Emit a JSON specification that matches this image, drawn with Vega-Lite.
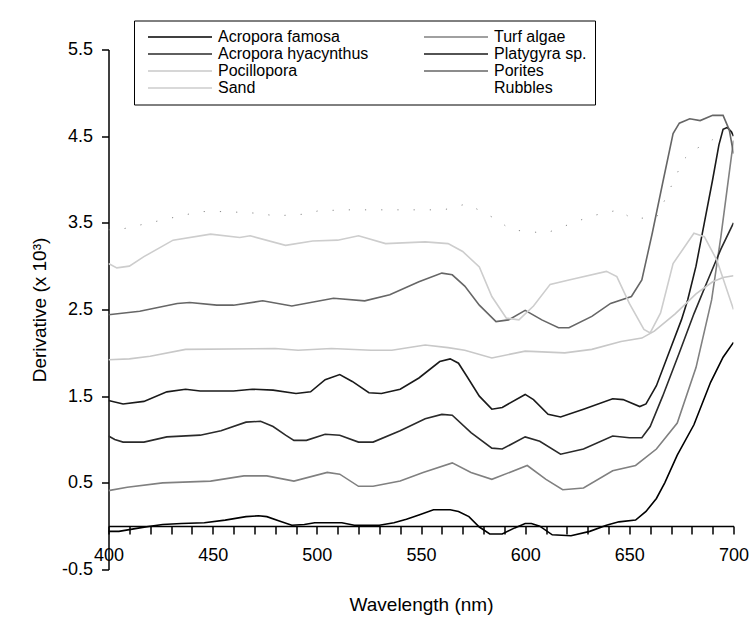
{
  "$schema": "https://vega.github.io/schema/vega-lite/v6.json",
  "width": 625,
  "height": 520,
  "autosize": {"type": "none"},
  "padding": {"left": 108.5, "top": 49.5, "right": 22.5, "bottom": 63.5},
  "background": "white",
  "config": {
    "font": "Liberation Sans",
    "view": {"stroke": null},
    "axis": {"grid": false, "ticks": true, "domainColor": "black", "tickColor": "black", "labelColor": "black", "titleColor": "black", "labelFontSize": 18, "titleFontSize": 19, "titleFontWeight": "normal", "tickSize": 7, "domainWidth": 1.5, "tickWidth": 1.5}
  },
  "datasets": {
    "spectra": [
      {"s": "Acropora famosa", "w": 400, "v": -0.06}, {"s": "Acropora famosa", "w": 405, "v": -0.06}, {"s": "Acropora famosa", "w": 410, "v": -0.04}, {"s": "Acropora famosa", "w": 415, "v": -0.02}, {"s": "Acropora famosa", "w": 420, "v": 0.0}, {"s": "Acropora famosa", "w": 426, "v": 0.02}, {"s": "Acropora famosa", "w": 435, "v": 0.03}, {"s": "Acropora famosa", "w": 446, "v": 0.04}, {"s": "Acropora famosa", "w": 456, "v": 0.07}, {"s": "Acropora famosa", "w": 466, "v": 0.11}, {"s": "Acropora famosa", "w": 472, "v": 0.12}, {"s": "Acropora famosa", "w": 476, "v": 0.11}, {"s": "Acropora famosa", "w": 482, "v": 0.06}, {"s": "Acropora famosa", "w": 488, "v": 0.01}, {"s": "Acropora famosa", "w": 494, "v": 0.02}, {"s": "Acropora famosa", "w": 499, "v": 0.04}, {"s": "Acropora famosa", "w": 512, "v": 0.04}, {"s": "Acropora famosa", "w": 518, "v": 0.01}, {"s": "Acropora famosa", "w": 530, "v": 0.01}, {"s": "Acropora famosa", "w": 537, "v": 0.04}, {"s": "Acropora famosa", "w": 543, "v": 0.08}, {"s": "Acropora famosa", "w": 549, "v": 0.13}, {"s": "Acropora famosa", "w": 556, "v": 0.19}, {"s": "Acropora famosa", "w": 564, "v": 0.19}, {"s": "Acropora famosa", "w": 568, "v": 0.17}, {"s": "Acropora famosa", "w": 573, "v": 0.11}, {"s": "Acropora famosa", "w": 578, "v": -0.01}, {"s": "Acropora famosa", "w": 583, "v": -0.09}, {"s": "Acropora famosa", "w": 589, "v": -0.09}, {"s": "Acropora famosa", "w": 595, "v": -0.02}, {"s": "Acropora famosa", "w": 600, "v": 0.03}, {"s": "Acropora famosa", "w": 603, "v": 0.03}, {"s": "Acropora famosa", "w": 607, "v": 0.0}, {"s": "Acropora famosa", "w": 613, "v": -0.1}, {"s": "Acropora famosa", "w": 622, "v": -0.11}, {"s": "Acropora famosa", "w": 631, "v": -0.06}, {"s": "Acropora famosa", "w": 639, "v": 0.01}, {"s": "Acropora famosa", "w": 645, "v": 0.05}, {"s": "Acropora famosa", "w": 653, "v": 0.07}, {"s": "Acropora famosa", "w": 658, "v": 0.17}, {"s": "Acropora famosa", "w": 663, "v": 0.32}, {"s": "Acropora famosa", "w": 667, "v": 0.5}, {"s": "Acropora famosa", "w": 673, "v": 0.82}, {"s": "Acropora famosa", "w": 681, "v": 1.17}, {"s": "Acropora famosa", "w": 689, "v": 1.66}, {"s": "Acropora famosa", "w": 695, "v": 1.95}, {"s": "Acropora famosa", "w": 700, "v": 2.12},

      {"s": "Turf algae", "w": 400, "v": 0.41}, {"s": "Turf algae", "w": 409, "v": 0.45}, {"s": "Turf algae", "w": 426, "v": 0.5}, {"s": "Turf algae", "w": 449, "v": 0.52}, {"s": "Turf algae", "w": 465, "v": 0.58}, {"s": "Turf algae", "w": 476, "v": 0.58}, {"s": "Turf algae", "w": 489, "v": 0.52}, {"s": "Turf algae", "w": 505, "v": 0.62}, {"s": "Turf algae", "w": 511, "v": 0.6}, {"s": "Turf algae", "w": 520, "v": 0.46}, {"s": "Turf algae", "w": 527, "v": 0.46}, {"s": "Turf algae", "w": 540, "v": 0.52}, {"s": "Turf algae", "w": 551, "v": 0.62}, {"s": "Turf algae", "w": 565, "v": 0.73}, {"s": "Turf algae", "w": 574, "v": 0.62}, {"s": "Turf algae", "w": 584, "v": 0.54}, {"s": "Turf algae", "w": 601, "v": 0.7}, {"s": "Turf algae", "w": 610, "v": 0.54}, {"s": "Turf algae", "w": 618, "v": 0.42}, {"s": "Turf algae", "w": 628, "v": 0.44}, {"s": "Turf algae", "w": 642, "v": 0.64}, {"s": "Turf algae", "w": 653, "v": 0.7}, {"s": "Turf algae", "w": 663, "v": 0.89}, {"s": "Turf algae", "w": 673, "v": 1.19}, {"s": "Turf algae", "w": 682, "v": 1.83}, {"s": "Turf algae", "w": 689.5, "v": 2.61}, {"s": "Turf algae", "w": 694, "v": 3.35}, {"s": "Turf algae", "w": 697, "v": 3.9}, {"s": "Turf algae", "w": 700, "v": 4.45},

      {"s": "Acropora hyacynthus", "w": 400, "v": 1.04}, {"s": "Acropora hyacynthus", "w": 403, "v": 1.0}, {"s": "Acropora hyacynthus", "w": 407, "v": 0.97}, {"s": "Acropora hyacynthus", "w": 417, "v": 0.97}, {"s": "Acropora hyacynthus", "w": 428, "v": 1.03}, {"s": "Acropora hyacynthus", "w": 444, "v": 1.05}, {"s": "Acropora hyacynthus", "w": 454, "v": 1.1}, {"s": "Acropora hyacynthus", "w": 466, "v": 1.2}, {"s": "Acropora hyacynthus", "w": 473, "v": 1.21}, {"s": "Acropora hyacynthus", "w": 479, "v": 1.15}, {"s": "Acropora hyacynthus", "w": 485, "v": 1.05}, {"s": "Acropora hyacynthus", "w": 489, "v": 0.99}, {"s": "Acropora hyacynthus", "w": 495, "v": 0.99}, {"s": "Acropora hyacynthus", "w": 504, "v": 1.06}, {"s": "Acropora hyacynthus", "w": 511, "v": 1.05}, {"s": "Acropora hyacynthus", "w": 520, "v": 0.97}, {"s": "Acropora hyacynthus", "w": 527, "v": 0.97}, {"s": "Acropora hyacynthus", "w": 540, "v": 1.1}, {"s": "Acropora hyacynthus", "w": 552, "v": 1.24}, {"s": "Acropora hyacynthus", "w": 560, "v": 1.29}, {"s": "Acropora hyacynthus", "w": 565, "v": 1.28}, {"s": "Acropora hyacynthus", "w": 574, "v": 1.08}, {"s": "Acropora hyacynthus", "w": 584, "v": 0.9}, {"s": "Acropora hyacynthus", "w": 589, "v": 0.89}, {"s": "Acropora hyacynthus", "w": 600, "v": 1.03}, {"s": "Acropora hyacynthus", "w": 607, "v": 0.98}, {"s": "Acropora hyacynthus", "w": 617, "v": 0.83}, {"s": "Acropora hyacynthus", "w": 628, "v": 0.89}, {"s": "Acropora hyacynthus", "w": 642, "v": 1.04}, {"s": "Acropora hyacynthus", "w": 650, "v": 1.02}, {"s": "Acropora hyacynthus", "w": 656, "v": 1.02}, {"s": "Acropora hyacynthus", "w": 660, "v": 1.15}, {"s": "Acropora hyacynthus", "w": 666, "v": 1.5}, {"s": "Acropora hyacynthus", "w": 674, "v": 2.0}, {"s": "Acropora hyacynthus", "w": 681, "v": 2.45}, {"s": "Acropora hyacynthus", "w": 687, "v": 2.8}, {"s": "Acropora hyacynthus", "w": 694, "v": 3.2}, {"s": "Acropora hyacynthus", "w": 700, "v": 3.5},

      {"s": "Platygyra sp.", "w": 400, "v": 1.45}, {"s": "Platygyra sp.", "w": 407, "v": 1.41}, {"s": "Platygyra sp.", "w": 417, "v": 1.44}, {"s": "Platygyra sp.", "w": 428, "v": 1.55}, {"s": "Platygyra sp.", "w": 437, "v": 1.58}, {"s": "Platygyra sp.", "w": 444, "v": 1.56}, {"s": "Platygyra sp.", "w": 460, "v": 1.56}, {"s": "Platygyra sp.", "w": 469, "v": 1.58}, {"s": "Platygyra sp.", "w": 479, "v": 1.57}, {"s": "Platygyra sp.", "w": 490, "v": 1.53}, {"s": "Platygyra sp.", "w": 497, "v": 1.55}, {"s": "Platygyra sp.", "w": 504, "v": 1.69}, {"s": "Platygyra sp.", "w": 511, "v": 1.75}, {"s": "Platygyra sp.", "w": 517, "v": 1.67}, {"s": "Platygyra sp.", "w": 525, "v": 1.54}, {"s": "Platygyra sp.", "w": 531, "v": 1.53}, {"s": "Platygyra sp.", "w": 540, "v": 1.58}, {"s": "Platygyra sp.", "w": 549, "v": 1.71}, {"s": "Platygyra sp.", "w": 559, "v": 1.9}, {"s": "Platygyra sp.", "w": 564, "v": 1.93}, {"s": "Platygyra sp.", "w": 568, "v": 1.88}, {"s": "Platygyra sp.", "w": 572, "v": 1.73}, {"s": "Platygyra sp.", "w": 578, "v": 1.5}, {"s": "Platygyra sp.", "w": 584, "v": 1.35}, {"s": "Platygyra sp.", "w": 589, "v": 1.37}, {"s": "Platygyra sp.", "w": 600, "v": 1.52}, {"s": "Platygyra sp.", "w": 604, "v": 1.46}, {"s": "Platygyra sp.", "w": 611, "v": 1.29}, {"s": "Platygyra sp.", "w": 617, "v": 1.26}, {"s": "Platygyra sp.", "w": 628, "v": 1.35}, {"s": "Platygyra sp.", "w": 642, "v": 1.47}, {"s": "Platygyra sp.", "w": 647, "v": 1.46}, {"s": "Platygyra sp.", "w": 655, "v": 1.38}, {"s": "Platygyra sp.", "w": 658, "v": 1.41}, {"s": "Platygyra sp.", "w": 663, "v": 1.62}, {"s": "Platygyra sp.", "w": 669, "v": 2.0}, {"s": "Platygyra sp.", "w": 675, "v": 2.38}, {"s": "Platygyra sp.", "w": 678, "v": 2.61}, {"s": "Platygyra sp.", "w": 682, "v": 3.0}, {"s": "Platygyra sp.", "w": 686, "v": 3.5}, {"s": "Platygyra sp.", "w": 690, "v": 4.0}, {"s": "Platygyra sp.", "w": 693, "v": 4.4}, {"s": "Platygyra sp.", "w": 695, "v": 4.58}, {"s": "Platygyra sp.", "w": 697, "v": 4.6}, {"s": "Platygyra sp.", "w": 699, "v": 4.55}, {"s": "Platygyra sp.", "w": 700, "v": 4.5},

      {"s": "Pocillopora", "w": 400, "v": 1.92}, {"s": "Pocillopora", "w": 410, "v": 1.93}, {"s": "Pocillopora", "w": 420, "v": 1.96}, {"s": "Pocillopora", "w": 437, "v": 2.04}, {"s": "Pocillopora", "w": 480, "v": 2.05}, {"s": "Pocillopora", "w": 491, "v": 2.03}, {"s": "Pocillopora", "w": 507, "v": 2.05}, {"s": "Pocillopora", "w": 526, "v": 2.03}, {"s": "Pocillopora", "w": 536, "v": 2.03}, {"s": "Pocillopora", "w": 552, "v": 2.09}, {"s": "Pocillopora", "w": 563, "v": 2.06}, {"s": "Pocillopora", "w": 571, "v": 2.03}, {"s": "Pocillopora", "w": 584, "v": 1.94}, {"s": "Pocillopora", "w": 600, "v": 2.02}, {"s": "Pocillopora", "w": 619, "v": 2.0}, {"s": "Pocillopora", "w": 632, "v": 2.04}, {"s": "Pocillopora", "w": 646, "v": 2.13}, {"s": "Pocillopora", "w": 656, "v": 2.17}, {"s": "Pocillopora", "w": 662, "v": 2.25}, {"s": "Pocillopora", "w": 672, "v": 2.45}, {"s": "Pocillopora", "w": 682, "v": 2.68}, {"s": "Pocillopora", "w": 690, "v": 2.82}, {"s": "Pocillopora", "w": 695, "v": 2.87}, {"s": "Pocillopora", "w": 700, "v": 2.89},

      {"s": "Porites", "w": 400, "v": 2.44}, {"s": "Porites", "w": 415, "v": 2.48}, {"s": "Porites", "w": 433, "v": 2.57}, {"s": "Porites", "w": 439, "v": 2.58}, {"s": "Porites", "w": 452, "v": 2.55}, {"s": "Porites", "w": 460, "v": 2.55}, {"s": "Porites", "w": 474, "v": 2.6}, {"s": "Porites", "w": 488, "v": 2.54}, {"s": "Porites", "w": 508, "v": 2.63}, {"s": "Porites", "w": 523, "v": 2.6}, {"s": "Porites", "w": 535, "v": 2.67}, {"s": "Porites", "w": 549, "v": 2.82}, {"s": "Porites", "w": 560, "v": 2.92}, {"s": "Porites", "w": 565, "v": 2.9}, {"s": "Porites", "w": 571, "v": 2.77}, {"s": "Porites", "w": 578, "v": 2.55}, {"s": "Porites", "w": 586, "v": 2.36}, {"s": "Porites", "w": 592, "v": 2.38}, {"s": "Porites", "w": 600, "v": 2.49}, {"s": "Porites", "w": 608, "v": 2.38}, {"s": "Porites", "w": 616, "v": 2.29}, {"s": "Porites", "w": 621, "v": 2.29}, {"s": "Porites", "w": 632, "v": 2.42}, {"s": "Porites", "w": 641, "v": 2.57}, {"s": "Porites", "w": 651, "v": 2.65}, {"s": "Porites", "w": 656, "v": 2.84}, {"s": "Porites", "w": 661, "v": 3.38}, {"s": "Porites", "w": 666, "v": 3.96}, {"s": "Porites", "w": 671, "v": 4.53}, {"s": "Porites", "w": 674, "v": 4.65}, {"s": "Porites", "w": 679, "v": 4.7}, {"s": "Porites", "w": 684, "v": 4.68}, {"s": "Porites", "w": 690, "v": 4.74}, {"s": "Porites", "w": 695, "v": 4.74}, {"s": "Porites", "w": 698, "v": 4.57}, {"s": "Porites", "w": 700, "v": 4.3},

      {"s": "Sand", "w": 400, "v": 3.03}, {"s": "Sand", "w": 404, "v": 2.98}, {"s": "Sand", "w": 410, "v": 3.0}, {"s": "Sand", "w": 417, "v": 3.11}, {"s": "Sand", "w": 431, "v": 3.3}, {"s": "Sand", "w": 449, "v": 3.37}, {"s": "Sand", "w": 463, "v": 3.33}, {"s": "Sand", "w": 468, "v": 3.35}, {"s": "Sand", "w": 485, "v": 3.24}, {"s": "Sand", "w": 498, "v": 3.29}, {"s": "Sand", "w": 510, "v": 3.3}, {"s": "Sand", "w": 520, "v": 3.35}, {"s": "Sand", "w": 533, "v": 3.26}, {"s": "Sand", "w": 552, "v": 3.28}, {"s": "Sand", "w": 563, "v": 3.26}, {"s": "Sand", "w": 570, "v": 3.17}, {"s": "Sand", "w": 578, "v": 2.99}, {"s": "Sand", "w": 584, "v": 2.65}, {"s": "Sand", "w": 591, "v": 2.4}, {"s": "Sand", "w": 597, "v": 2.38}, {"s": "Sand", "w": 604, "v": 2.54}, {"s": "Sand", "w": 612, "v": 2.79}, {"s": "Sand", "w": 621, "v": 2.84}, {"s": "Sand", "w": 639, "v": 2.94}, {"s": "Sand", "w": 644, "v": 2.88}, {"s": "Sand", "w": 650, "v": 2.57}, {"s": "Sand", "w": 657, "v": 2.27}, {"s": "Sand", "w": 660, "v": 2.23}, {"s": "Sand", "w": 665, "v": 2.46}, {"s": "Sand", "w": 671, "v": 3.03}, {"s": "Sand", "w": 681, "v": 3.38}, {"s": "Sand", "w": 686, "v": 3.34}, {"s": "Sand", "w": 692, "v": 3.07}, {"s": "Sand", "w": 700, "v": 2.5},

      {"s": "Rubbles", "w": 400, "v": 3.42}, {"s": "Rubbles", "w": 405, "v": 3.42}, {"s": "Rubbles", "w": 429, "v": 3.55}, {"s": "Rubbles", "w": 444, "v": 3.63}, {"s": "Rubbles", "w": 456, "v": 3.63}, {"s": "Rubbles", "w": 472, "v": 3.61}, {"s": "Rubbles", "w": 480, "v": 3.58}, {"s": "Rubbles", "w": 494, "v": 3.6}, {"s": "Rubbles", "w": 501, "v": 3.64}, {"s": "Rubbles", "w": 516, "v": 3.65}, {"s": "Rubbles", "w": 521, "v": 3.65}, {"s": "Rubbles", "w": 548, "v": 3.65}, {"s": "Rubbles", "w": 561, "v": 3.65}, {"s": "Rubbles", "w": 572, "v": 3.72}, {"s": "Rubbles", "w": 587, "v": 3.53}, {"s": "Rubbles", "w": 593, "v": 3.42}, {"s": "Rubbles", "w": 610, "v": 3.38}, {"s": "Rubbles", "w": 623, "v": 3.5}, {"s": "Rubbles", "w": 632, "v": 3.58}, {"s": "Rubbles", "w": 645, "v": 3.65}, {"s": "Rubbles", "w": 651, "v": 3.55}, {"s": "Rubbles", "w": 663, "v": 3.56}, {"s": "Rubbles", "w": 669.5, "v": 3.89}, {"s": "Rubbles", "w": 676, "v": 4.23}, {"s": "Rubbles", "w": 681, "v": 4.34}, {"s": "Rubbles", "w": 690, "v": 4.46}
    ]
  },
  "data": {"name": "spectra"},
  "encoding": {
    "x": {
      "field": "w", "type": "quantitative",
      "scale": {"domain": [400, 700], "nice": false, "zero": false},
      "axis": {
        "title": "Wavelength (nm)",
        "values": [400, 410, 420, 430, 440, 450, 460, 470, 480, 490, 500, 510, 520, 530, 540, 550, 560, 570, 580, 590, 600, 610, 620, 630, 640, 650, 660, 670, 680, 690, 700],
        "labelExpr": "datum.value % 50 === 0 ? datum.label : ''",
        "labelOverlap": false,
        "labelFlush": false,
        "offset": -43.4,
        "ticks": true,
        "tickSize": 8,
        "tickColor": "black",
        "tickWidth": 1.5,
        "labelPadding": 12,
        "titlePadding": 31
      }
    },
    "y": {
      "field": "v", "type": "quantitative",
      "scale": {"domain": [-0.5, 5.5], "nice": false, "zero": false},
      "axis": {
        "title": "Derivative (x 10³)",
        "values": [-0.5, 0.5, 1.5, 2.5, 3.5, 4.5, 5.5],
        "labelExpr": "replace(format(datum.value, '.1f'), '\u2212', '-')",
        "labelPadding": 9,
        "titlePadding": 12
      }
    },
    "color": {
      "field": "s", "type": "nominal",
      "scale": {
        "domain": ["Acropora famosa", "Acropora hyacynthus", "Pocillopora", "Sand", "Turf algae", "Platygyra sp.", "Porites", "Rubbles"],
        "range": ["#000000", "#2a2a2a", "#c8c8c8", "#cdcdcd", "#808080", "#1a1a1a", "#666666", "#8a8a8a"]
      },
      "legend": {
        "title": null,
        "orient": "none",
        "legendX": 25.5,
        "legendY": -29,
        "direction": "vertical",
        "columns": 2,
        "columnPadding": 49,
        "rowPadding": 0,
        "clipHeight": 17,
        "symbolType": "stroke",
        "symbolSize": 4096,
        "symbolStrokeWidth": 1.6,
        "symbolOffset": 5,
        "labelOffset": 5,
        "labelFontSize": 16,
        "labelColor": "black",
        "labelLimit": 300,
        "padding": 8,
        "strokeColor": "black",
        "fillColor": "white",
        "encode": {"symbols": {"update": {"opacity": {"signal": "datum.label === 'Rubbles' ? 0 : 1"}}}}
      }
    }
  },
  "layer": [
    {
      "transform": [{"filter": "datum.s !== 'Rubbles'"}],
      "mark": {"type": "line", "strokeWidth": 1.6, "clip": true}
    },
    {
      "transform": [{"filter": "datum.s === 'Rubbles'"}],
      "mark": {"type": "line", "strokeWidth": 1, "strokeDash": [1.2, 15], "clip": true}
    }
  ]
}
